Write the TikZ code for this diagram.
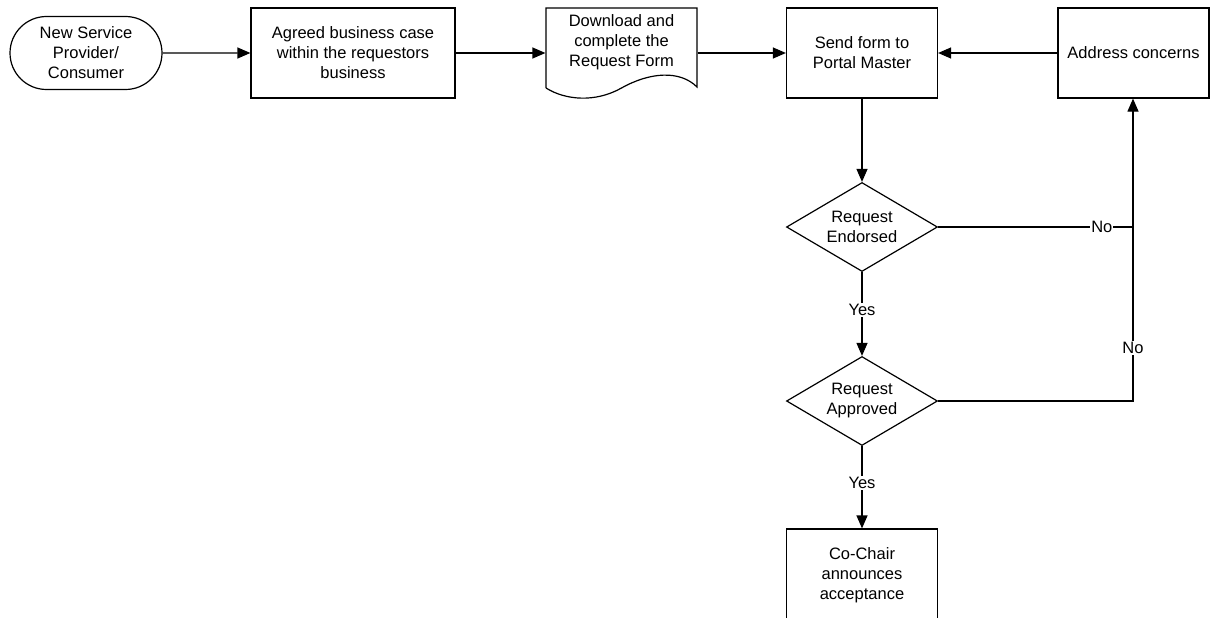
\documentclass[tikz,border=0pt]{standalone}
\usepackage{fontspec}
\setmainfont{Liberation Sans}
\usetikzlibrary{shapes.geometric,shapes.misc,arrows.meta}
\begin{document}
\begin{tikzpicture}[x=1pt,y=-1pt,
  font=\fontsize{16.5}{20}\selectfont,
  every node/.style={align=center, line width=1.2pt},
  procbox/.style={draw, rectangle, minimum width=151pt, minimum height=90pt, inner sep=0pt},
  term/.style={draw, rounded rectangle, minimum width=152pt, minimum height=73pt, inner sep=0pt},
  decis/.style={draw, diamond, minimum width=151pt, minimum height=89pt, inner sep=0pt, aspect=1.7},
  conn/.style={line width=1.2pt, -{Triangle[length=13pt,width=11pt]}},
  plain/.style={line width=1.2pt},
  lbl/.style={fill=white, inner sep=1pt}]
\clip (0,0) rectangle (1213,618);
\fill[white] (0,0) rectangle (1213,618);
\node[term] (start) at (86,53) {New Service\\Provider/\\Consumer};
\node[procbox, minimum width=204pt] (biz) at (353,53) {Agreed business case\\within the requestors\\business};
\node[minimum width=151pt, minimum height=90pt, inner sep=0pt] (doc) at (621.5,53) {};
\node (doctext) at (621.5,42) {Download and\\complete the\\Request Form};
\draw[line width=1.2pt] (546,88) -- (546,8) -- (697,8) -- (697,87)
  .. controls (680,70) and (650,72) .. (621.5,88)
  .. controls (595,103) and (565,100) .. (546,88);
\node[procbox] (send) at (862,53) {Send form to\\Portal Master};
\node[procbox] (addr) at (1133.5,53) {Address concerns};
\node[decis] (endo) at (862,227) {Request\\Endorsed};
\node[decis] (appr) at (862,401) {Request\\Approved};
\node[procbox, minimum height=92pt] (cochair) at (862,575) {Co-Chair\\announces\\acceptance};
\coordinate (j1) at (1133,227);
\coordinate (j2) at (1133,401);
\draw[conn] (start) -- (biz);
\draw[conn] (biz) -- (doc.west);
\draw[conn] (doc.east) -- (send);
\draw[conn] (addr) -- (send);
\draw[conn] (send) -- (endo);
\draw[conn] (endo) -- node[lbl, pos=0.45] {Yes} (appr);
\draw[conn] (appr) -- node[lbl, pos=0.45] {Yes} (cochair);
\draw[plain] (endo.east) -- node[lbl, pos=0.84] {No} (j1);
\draw[conn] (appr.east) -- (j2) -- node[lbl, pos=0.175] {No} (addr.south -| j2);
\end{tikzpicture}
\end{document}
